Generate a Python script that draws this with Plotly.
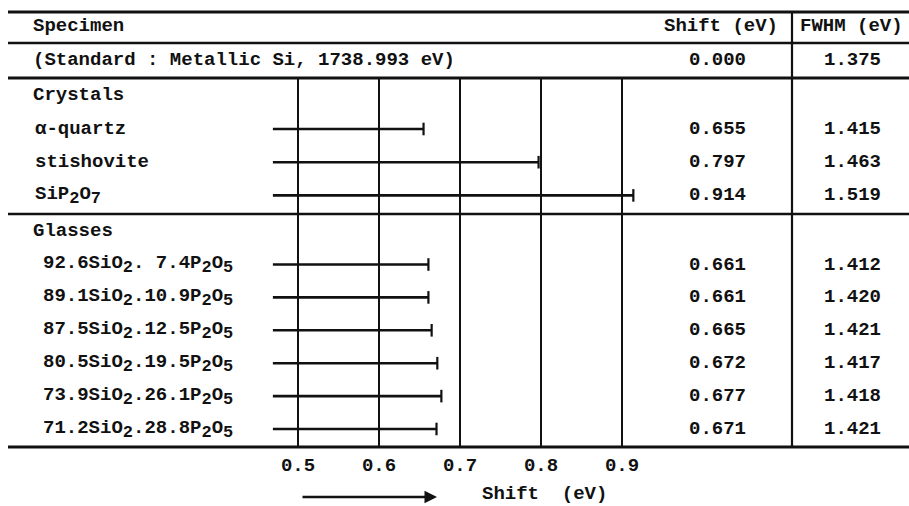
import plotly.graph_objects as go

# ---------------- data ----------------
header_labels = ["Specimen", "Shift (eV)", "FWHM (eV)"]
standard_label = "(Standard : Metallic Si, 1738.993 eV)"
standard_shift = "0.000"
standard_fwhm = "1.375"

crystal_group = "Crystals"
crystal_names = ["α-quartz", "stishovite", "SiP<sub>2</sub>O<sub>7</sub>"]
crystal_shift = [0.655, 0.797, 0.914]
crystal_fwhm = [1.415, 1.463, 1.519]

glass_group = "Glasses"
glass_names = [
    "92.6SiO<sub>2</sub>. 7.4P<sub>2</sub>O<sub>5</sub>",
    "89.1SiO<sub>2</sub>.10.9P<sub>2</sub>O<sub>5</sub>",
    "87.5SiO<sub>2</sub>.12.5P<sub>2</sub>O<sub>5</sub>",
    "80.5SiO<sub>2</sub>.19.5P<sub>2</sub>O<sub>5</sub>",
    "73.9SiO<sub>2</sub>.26.1P<sub>2</sub>O<sub>5</sub>",
    "71.2SiO<sub>2</sub>.28.8P<sub>2</sub>O<sub>5</sub>",
]
glass_shift = [0.661, 0.661, 0.665, 0.672, 0.677, 0.671]
glass_fwhm = [1.412, 1.420, 1.421, 1.417, 1.418, 1.421]

x_ticks = [0.5, 0.6, 0.7, 0.8, 0.9]
x_tick_labels = ["0.5", "0.6", "0.7", "0.8", "0.9"]
bar_origin = 0.469
axis_title = "Shift  (eV)"

# ---------------- layout geometry (pixels) ----------------
W, H = 909, 506
X05_PX, PX_PER_UNIT = 298.0, 810.0
x_range = [0.5 - X05_PX / PX_PER_UNIT, 0.5 + (W - X05_PX) / PX_PER_UNIT]

def px(xp):
    return xp / W

INK = "#111111"
FONT = dict(family="Liberation Mono", size=19, color=INK, weight="bold")

def big_sub(s):
    # enlarge subscripts a little, as in the typewritten original
    return s.replace("<sub>", "<sub><span style='font-size:17px'>").replace("</sub>", "</span></sub>")

y_header = 26
y_standard = 60
y_crystal_group = 95
y_crystals = [129 + 33.2 * i for i in range(len(crystal_names))]
y_glass_group = 231
y_glasses = [264.5 + 32.9 * i for i in range(len(glass_names))]
rules = [(12, 3), (43, 2.5), (78, 3), (214, 2.5), (447, 3)]
y_grid_top, y_bottom = 78, 447

fig = go.Figure()

# vertical gridlines
gx, gy = [], []
for t in x_ticks:
    gx += [t, t, None]
    gy += [y_grid_top, y_bottom, None]
fig.add_trace(go.Scatter(x=gx, y=gy, mode="lines",
                         line=dict(color=INK, width=2), hoverinfo="skip"))

# bars
all_shift = crystal_shift + glass_shift
all_y = y_crystals + y_glasses
bx, by = [], []
for v, yy in zip(all_shift, all_y):
    bx += [bar_origin, v, None]
    by += [yy, yy, None]
fig.add_trace(go.Scatter(x=bx, y=by, mode="lines",
                         line=dict(color=INK, width=2.6), hoverinfo="skip"))
fig.add_trace(go.Scatter(x=all_shift, y=all_y, mode="markers",
                         marker=dict(symbol="line-ns-open", size=9, color=INK,
                                     line=dict(color=INK, width=2.2)),
                         hoverinfo="skip"))

shapes = []
for yy, w in rules:
    shapes.append(dict(type="line", xref="paper", yref="y", x0=px(8), x1=1,
                       y0=yy, y1=yy, line=dict(color=INK, width=w)))
shapes.append(dict(type="line", xref="paper", yref="y", x0=px(792), x1=px(792),
                   y0=12, y1=447, line=dict(color=INK, width=2.2)))

ann = []
def text(x, y, s, anchor="left"):
    ann.append(dict(x=px(x), y=y, xref="paper", yref="y", text=s, showarrow=False,
                    xanchor=anchor, yanchor="middle", font=FONT))

text(31, y_header, header_labels[0])
text(780, y_header, header_labels[1], "right")
text(851, y_header, header_labels[2], "center")
text(31, y_standard, standard_label)
text(717, y_standard, standard_shift, "center")
text(852, y_standard, standard_fwhm, "center")
text(31, y_crystal_group, crystal_group)
for n, s, f, yy in zip(crystal_names, crystal_shift, crystal_fwhm, y_crystals):
    text(33, yy, big_sub(n))
    text(717, yy, f"{s:.3f}", "center")
    text(852, yy, f"{f:.3f}", "center")
text(31, y_glass_group, glass_group)
for n, s, f, yy in zip(glass_names, glass_shift, glass_fwhm, y_glasses):
    text(41, yy, big_sub(n))
    text(717, yy, f"{s:.3f}", "center")
    text(852, yy, f"{f:.3f}", "center")

# axis title with arrow
text(480, 494, axis_title)
ann.append(dict(x=px(437), y=497, xref="paper", yref="y", ax=-136, ay=0,
                axref="pixel", ayref="pixel", text="", showarrow=True,
                arrowhead=2, arrowsize=1.0, arrowwidth=2.5, arrowcolor=INK))

fig.update_layout(
    width=W, height=H, margin=dict(l=0, r=0, t=0, b=0),
    paper_bgcolor="white", plot_bgcolor="white", showlegend=False,
    shapes=shapes, annotations=ann,
    xaxis=dict(range=x_range, tickvals=x_ticks, ticktext=x_tick_labels,
               showgrid=False, zeroline=False, showline=False, ticks="",
               anchor="free", position=(H - y_bottom) / H,
               tickfont=FONT, ticklabelstandoff=4, fixedrange=True),
    yaxis=dict(range=[H, 0], visible=False, showgrid=False, zeroline=False,
               fixedrange=True),
)

fig.write_html("out.html", config={"displayModeBar": False},
               post_script="document.body.style.margin='0';document.body.style.padding='0';document.body.style.overflow='hidden';")
